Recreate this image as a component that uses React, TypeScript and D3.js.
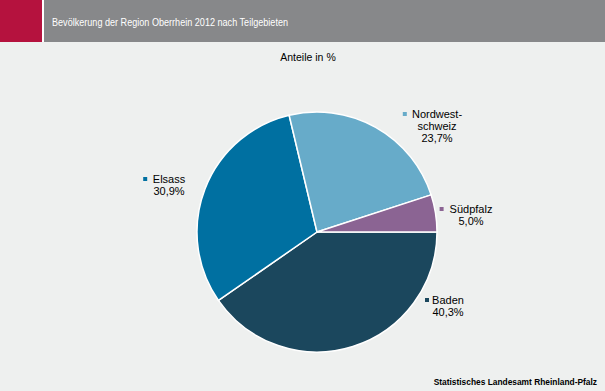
import React from "react";
import { pie, arc, scaleOrdinal } from "d3";

const regions = ["Baden", "Elsass", "Nordwestschweiz", "Südpfalz"];
const shares = [40.3, 30.9, 23.7, 5.0];
const labelLines = [["Baden", "40,3%"], ["Elsass", "30,9%"], ["Nordwest-", "schweiz", "23,7%"], ["Südpfalz", "5,0%"]];
const colors = ["#1b475d", "#0070a1", "#67abc9", "#8b6493"];

// label block centres (annotation layout)
const labelPos: Record<string, [number, number]> = {
  Baden: [448, 306],
  Elsass: [169, 185],
  Nordwestschweiz: [437, 126],
  "Südpfalz": [471, 215],
};

const width = 605;
const height = 391;
const cx = 317;
const cy = 232;
const radius = 120;
const font = "'Liberation Sans', Arial, sans-serif";

export default function App() {
  const data = regions.map((r, i) => ({ region: r, value: shares[i], lines: labelLines[i] }));
  const color = scaleOrdinal<string, string>().domain(regions).range(colors);
  const arcs = pie<any>()
    .value((d) => d.value)
    .sort(null)
    .startAngle(Math.PI / 2)
    .endAngle(Math.PI / 2 + 2 * Math.PI)(data);
  const arcGen = arc<any>().innerRadius(0).outerRadius(radius);

  return (
    <svg
      width={width}
      height={height}
      style={{ position: "absolute", left: 0, top: 0, fontFamily: font }}
    >
      <rect width={width} height={height} fill="#eef0ef" />
      <rect width={width} height={42} fill="#ffffff" />
      <rect x={0} y={0} width={42} height={42} fill="#b5123e" />
      <rect x={44} y={0} width={width - 44} height={42} fill="#87888a" />
      <text x={52} y={26} fill="#ffffff" fontSize={11} textLength={236} lengthAdjust="spacingAndGlyphs">
        Bevölkerung der Region Oberrhein 2012 nach Teilgebieten
      </text>
      <text x={308} y={61} textAnchor="middle" fontSize={10.5} fill="#000">
        Anteile in %
      </text>
      <g transform={`translate(${cx},${cy})`}>
        {arcs.map((a) => (
          <path
            key={a.data.region}
            d={arcGen(a) as string}
            fill={color(a.data.region)}
            stroke="#ffffff"
            strokeWidth={1.5}
          />
        ))}
      </g>
      {arcs.map((a) => {
        const [lx, ly] = labelPos[a.data.region];
        const lines: string[] = a.data.lines;
        const top = ly - ((lines.length - 1) * 12) / 2;
        const firstW = lines[0].length * 5.6;
        return (
          <g key={"l" + a.data.region}>
            <rect
              x={lx - firstW / 2 - 9}
              y={top - 2}
              width={4}
              height={4}
              fill={color(a.data.region)}
            />
            {lines.map((t, j) => (
              <text
                key={j}
                x={lx}
                y={top + j * 12 + 4}
                textAnchor="middle"
                fontSize={11}
                fill="#000"
              >
                {t}
              </text>
            ))}
          </g>
        );
      })}
      <text
        x={597}
        y={385}
        textAnchor="end"
        fontSize={8.4}
        fontWeight="bold"
        fill="#000"
      >
        Statistisches Landesamt Rheinland-Pfalz
      </text>
    </svg>
  );
}
